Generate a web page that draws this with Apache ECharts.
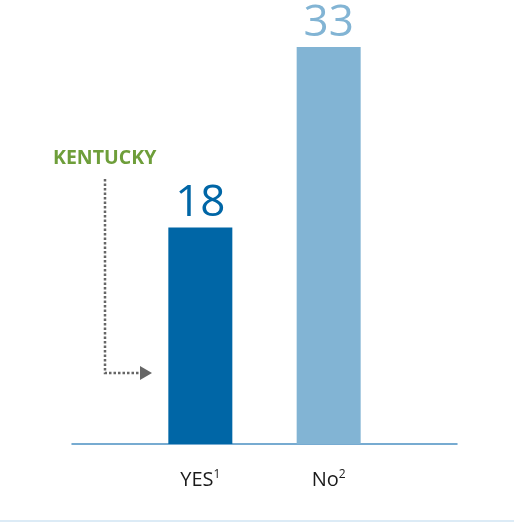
<!DOCTYPE html>
<html>
<head>
<meta charset="utf-8">
<style>
  html, body { margin: 0; padding: 0; background: #fff; }
  #chart { width: 514px; height: 525px; }
</style>
<script src="https://cdn.jsdelivr.net/npm/echarts@6/dist/echarts.min.js"></script>
</head>
<body>
<div id="chart"></div>
<script>
// Padding slots at either end let the axis line run past the two bars.
const categories = ["", "YES", "No", ""];
const labels = ["", "{b|YES}{s|1}", "{b|No}{s|2}", ""];
const values = [null, 18, 33, null];
const barColors = ["#0066a6", "#0066a6", "#82b4d4", "#82b4d4"];
const calloutText = "KENTUCKY";

const FONT = "'Open Sans', 'Noto Sans', sans-serif";

const chart = echarts.init(document.getElementById("chart"));

chart.setOption({
  animation: false,
  grid: { left: 72, right: 57, top: 11, bottom: 81 },
  xAxis: {
    type: "category",
    data: categories,
    boundaryGap: false,
    axisLine: { lineStyle: { color: "#4b90c2", width: 1.5 } },
    axisTick: { show: false },
    axisLabel: {
      interval: 0,
      margin: 25,
      formatter: (v, i) => labels[i],
      rich: {
        b: { fontFamily: FONT, fontSize: 20, color: "#1a1a1a" },
        s: { fontFamily: FONT, fontSize: 12, color: "#1a1a1a", verticalAlign: "top", padding: [0, 0, 10, 0] },
      },
    },
  },
  yAxis: {
    type: "value",
    min: 0,
    max: 36,
    show: false,
    splitLine: { show: false },
  },
  series: [
    {
      type: "bar",
      barWidth: 64,
      data: values.map((v, i) => ({ value: v, itemStyle: { color: barColors[i] } })),
      label: {
        show: true,
        position: "top",
        distance: 2,
        fontFamily: FONT,
        fontSize: 44,
        formatter: (p) => (p.value == null ? "" : p.value),
        color: "inherit",
      },
    },
  ],
  graphic: [
    {
      type: "text",
      left: 53,
      top: 148,
      style: { text: calloutText, fontFamily: FONT, fontSize: 19.5, fontWeight: "bold", fill: "#6e9e3a" },
    },
    {
      type: "polyline",
      shape: { points: [[105, 179], [105, 373], [141, 373]] },
      style: { stroke: "#666666", lineWidth: 2.5, lineDash: [2.5, 2], fill: null },
    },
    {
      type: "polygon",
      shape: { points: [[140, 366], [152, 373], [140, 380]] },
      style: { fill: "#666666" },
    },
    {
      type: "line",
      shape: { x1: 0, y1: 521, x2: 514, y2: 521 },
      style: { stroke: "#dcebf6", lineWidth: 2 },
    },
  ],
});
</script>
</body>
</html>
